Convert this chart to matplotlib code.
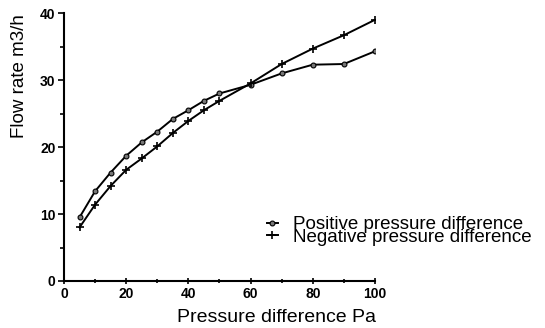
import matplotlib.pyplot as plt

plt.rcParams['font.family'] = ['Liberation Sans', 'DejaVu Sans']

# pressure difference (Pa)
pressure = [5, 10, 15, 20, 25, 30, 35, 40, 45, 50, 60, 70, 80, 90, 100]

# flow rate (m3/h)
positive = [9.5, 13.4, 16.2, 18.7, 20.7, 22.3, 24.2, 25.5, 26.9, 28.0, 29.3, 31.0, 32.3, 32.4, 34.3]
negative = [8.0, 11.4, 14.2, 16.6, 18.3, 20.1, 22.1, 23.9, 25.5, 26.9, 29.5, 32.4, 34.7, 36.7, 39.0]

fig = plt.figure(figsize=(5.45, 3.28), dpi=100)
ax = fig.add_axes([0.1174, 0.1433, 0.5706, 0.8167])

ax.plot(pressure, positive, color='black', linewidth=1.4, marker='o', markersize=3.5,
        markerfacecolor='#777777', markeredgecolor='black', markeredgewidth=0.8,
        label="Positive pressure difference")
ax.plot(pressure, negative, color='black', linewidth=1.4, marker='+', markersize=6,
        markeredgewidth=1.2, label="Negative pressure difference")

ax.set_xlim(0, 100)
ax.set_ylim(0, 40)
ax.set_xticks([0, 20, 40, 60, 80, 100])
ax.set_xticks(range(0, 101, 10), minor=True)
ax.set_yticks([0, 10, 20, 30, 40])
ax.set_yticks(range(0, 41, 5), minor=True)
ax.tick_params(axis='x', which='both', direction='inout', width=1.2, labelsize=10, pad=2)
ax.tick_params(axis='y', which='both', direction='out', width=1.2, labelsize=10, pad=2)
ax.tick_params(which='major', length=4)
ax.tick_params(which='minor', length=3)
for lab in ax.get_xticklabels() + ax.get_yticklabels():
    lab.set_fontweight('bold')

ax.spines['top'].set_visible(False)
ax.spines['right'].set_visible(False)
ax.spines['left'].set_linewidth(1.5)
ax.spines['bottom'].set_linewidth(1.5)

ax.set_xlabel("Pressure difference Pa", fontsize=14)
ax.set_ylabel("Flow rate m3/h", fontsize=13.5)
ax.xaxis.set_label_coords(0.682, -0.105)
ax.yaxis.set_label_coords(-0.116, 0.765)

ax.legend(loc='center left', bbox_to_anchor=(0.489, 0.296), bbox_transform=fig.transFigure,
          frameon=False, fontsize=13.5, handlelength=0.6, handletextpad=0.8,
          labelspacing=-0.25, borderpad=0, borderaxespad=0)

fig.savefig("out.png", dpi=100)
